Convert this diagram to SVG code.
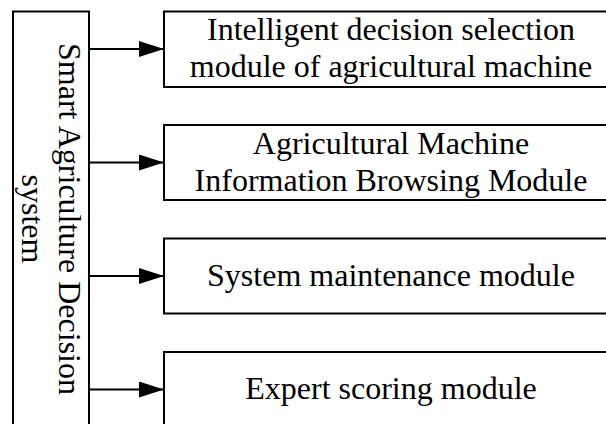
<svg xmlns="http://www.w3.org/2000/svg" width="606" height="424" viewBox="0 0 606 424">
<style>
.box{fill:#fff;stroke:#000;stroke-width:2}
.lbl{font-family:"Liberation Serif","Times New Roman",serif;font-size:32px;fill:#000;text-anchor:middle}
.conn{stroke:#000;stroke-width:2;fill:none}
</style>
<defs>
<marker id="arr" markerUnits="userSpaceOnUse" markerWidth="26" markerHeight="18" refX="25" refY="8" orient="auto" viewBox="0 0 26 18">
<polygon points="0,0 25,8 0,16" fill="#000"/>
</marker>
</defs>
<rect width="606" height="424" fill="#fff"/>
<g id="connectors">
<line class="conn" x1="89" y1="49" x2="164" y2="49" marker-end="url(#arr)"/>
<line class="conn" x1="89" y1="162.5" x2="164" y2="162.5" marker-end="url(#arr)"/>
<line class="conn" x1="89" y1="276" x2="164" y2="276" marker-end="url(#arr)"/>
<line class="conn" x1="89" y1="389.5" x2="164" y2="389.5" marker-end="url(#arr)"/>
</g>
<g id="system">
<rect class="box" x="13" y="11.5" width="76" height="420"/>
<text class="lbl" transform="translate(59,219) rotate(90)"><tspan x="0" y="0">Smart Agriculture Decision</tspan><tspan x="0" y="37">system</tspan></text>
</g>
<g id="module1">
<rect class="box" x="164" y="11.5" width="460" height="75.5"/>
<text class="lbl"><tspan x="391" y="39.5">Intelligent decision selection</tspan><tspan x="391" y="77">module of agricultural machine</tspan></text>
</g>
<g id="module2">
<rect class="box" x="164" y="125" width="460" height="75"/>
<text class="lbl"><tspan x="391" y="154">Agricultural Machine</tspan><tspan x="391" y="191">Information Browsing Module</tspan></text>
</g>
<g id="module3">
<rect class="box" x="164" y="238.5" width="460" height="75"/>
<text class="lbl" x="391" y="286">System maintenance module</text>
</g>
<g id="module4">
<rect class="box" x="164" y="352" width="460" height="80"/>
<text class="lbl" x="391" y="399">Expert scoring module</text>
</g>
</svg>
